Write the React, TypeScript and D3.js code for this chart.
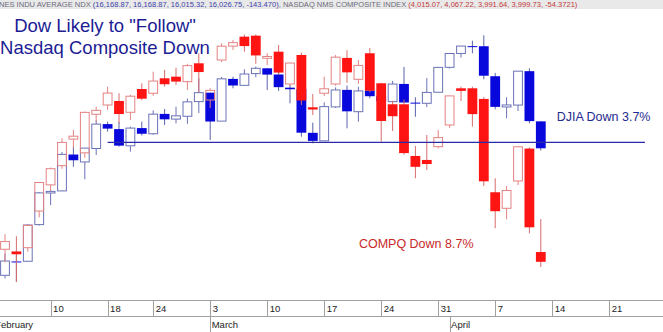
import React from 'react';
import * as d3 from 'd3';

const W = 663;
const H = 332;

// trading days shown as candles
const dates = [
  '2014-02-04', '2014-02-05', '2014-02-06', '2014-02-07', '2014-02-10', '2014-02-11', '2014-02-12', '2014-02-13', '2014-02-14',
  '2014-02-18', '2014-02-19', '2014-02-20', '2014-02-21', '2014-02-24', '2014-02-25', '2014-02-26', '2014-02-27', '2014-02-28',
  '2014-03-03', '2014-03-04', '2014-03-05', '2014-03-06', '2014-03-07', '2014-03-10', '2014-03-11', '2014-03-12', '2014-03-13',
  '2014-03-14', '2014-03-17', '2014-03-18', '2014-03-19', '2014-03-20', '2014-03-21', '2014-03-24', '2014-03-25', '2014-03-26',
  '2014-03-27', '2014-03-28', '2014-03-31', '2014-04-01', '2014-04-02', '2014-04-03', '2014-04-04', '2014-04-07', '2014-04-08',
  '2014-04-09', '2014-04-10', '2014-04-11',
];

// Dow Jones Industrial Average (blue)
const dowOpen = [
  15372.93, 15443.0, 15443.83, 15630.64, 15793.57, 15804.35, 15994.0, 15955.07, 16025.5,
  16154.39, 16127.8, 16039.8, 16133.2, 16103.3, 16208.5, 16180.9, 16195.9, 16274.0,
  16321.7, 16170.2, 16395.6, 16361.0, 16424.0, 16452.7, 16419.4, 16348.5, 16340.6,
  16108.2, 16066.0, 16245.7, 16336.7, 16220.2, 16333.0, 16303.0, 16273.6, 16368.5,
  16268.6, 16265.0, 16324.0, 16458.0, 16533.0, 16572.6, 16572.2, 16410.0, 16245.4,
  16255.5, 16437.2, 16168.87,
];
const dowHigh = [
  15481.85, 15478.21, 15632.09, 15798.51, 15810.5, 16007.2, 16036.0, 16029.0, 16175.0,
  16167.0, 16165.0, 16141.0, 16167.0, 16227.0, 16234.6, 16246.9, 16290.0, 16398.5,
  16321.7, 16406.0, 16407.5, 16447.3, 16462.0, 16453.0, 16440.0, 16362.8, 16395.0,
  16161.9, 16270.0, 16350.0, 16360.0, 16353.7, 16350.0, 16360.0, 16385.0, 16460.0,
  16297.0, 16400.0, 16460.0, 16535.0, 16573.5, 16602.3, 16631.63, 16428.0, 16297.0,
  16437.5, 16452.7, 16168.87,
];
const dowLow = [
  15356.62, 15340.69, 15443.0, 15625.53, 15731.0, 15803.23, 15930.0, 15864.7, 15991.6,
  16114.2, 16035.2, 16009.0, 16094.0, 16098.0, 16149.7, 16158.7, 16156.0, 16213.0,
  16070.4, 16170.2, 16345.2, 16361.0, 16404.2, 16336.0, 16330.7, 16264.9, 16087.8,
  16053.0, 16066.0, 16240.0, 16132.2, 16167.1, 16291.7, 16190.0, 16270.0, 16268.0,
  16193.6, 16245.0, 16324.0, 16451.0, 16511.0, 16533.8, 16393.4, 16233.0, 16185.2,
  16224.0, 16158.7, 16015.32,
];
const dowClose = [
  15445.24, 15440.23, 15628.53, 15794.08, 15801.79, 15994.77, 15963.94, 16027.59, 16154.39,
  16130.4, 16040.56, 16133.23, 16103.3, 16207.14, 16179.66, 16198.41, 16272.65, 16321.71,
  16168.03, 16395.88, 16360.18, 16421.89, 16452.72, 16418.68, 16351.25, 16340.08, 16108.89,
  16065.67, 16247.22, 16336.19, 16222.17, 16331.05, 16302.77, 16276.69, 16367.88, 16268.99,
  16264.23, 16323.06, 16457.66, 16532.61, 16573.0, 16572.55, 16412.71, 16245.87, 16256.14,
  16437.18, 16170.22, 16026.75,
];

// Nasdaq Composite (red)
const nasOpen = [
  4019.4, 4016.0, 4021.9, 4080.0, 4122.0, 4153.1, 4196.5, 4174.0, 4237.5,
  4252.9, 4259.6, 4240.8, 4279.6, 4272.5, 4297.6, 4300.3, 4291.9, 4322.9,
  4261.2, 4328.5, 4352.1, 4368.2, 4369.9, 4331.4, 4342.6, 4288.0, 4337.0,
  4249.1, 4272.5, 4288.0, 4332.0, 4295.9, 4339.9, 4289.2, 4254.1, 4254.1,
  4168.9, 4162.4, 4184.1, 4219.8, 4280.8, 4280.8, 4263.0, 4110.1, 4084.4,
  4128.3, 4181.0, 4015.07,
];
const nasHigh = [
  4043.1, 4040.0, 4059.0, 4126.5, 4150.0, 4197.9, 4211.5, 4242.0, 4250.1,
  4283.5, 4272.5, 4270.0, 4289.2, 4308.7, 4311.6, 4315.4, 4322.0, 4339.9,
  4281.0, 4356.9, 4362.5, 4371.71, 4372.0, 4339.9, 4354.0, 4323.5, 4341.0,
  4271.3, 4300.3, 4337.0, 4345.0, 4328.5, 4348.9, 4290.0, 4260.0, 4262.0,
  4185.2, 4203.3, 4211.5, 4269.0, 4283.5, 4283.5, 4266.0, 4132.7, 4120.2,
  4185.0, 4183.0, 4067.22,
];
const nasLow = [
  3999.0, 3968.2, 4015.6, 4070.0, 4112.0, 4148.0, 4182.0, 4166.0, 4225.0,
  4245.0, 4222.6, 4228.0, 4261.0, 4268.0, 4283.5, 4286.3, 4278.0, 4274.1,
  4248.0, 4325.0, 4345.5, 4342.6, 4322.0, 4320.0, 4304.0, 4285.0, 4253.0,
  4236.3, 4268.0, 4285.0, 4290.0, 4288.0, 4274.0, 4192.3, 4210.0, 4171.0,
  4132.7, 4146.1, 4181.2, 4215.0, 4259.6, 4217.0, 4120.2, 4052.6, 4066.9,
  4121.8, 4044.6, 3991.64,
];
const nasClose = [
  4031.52, 4011.55, 4057.12, 4125.86, 4148.17, 4191.05, 4201.29, 4240.67, 4244.03,
  4272.78, 4237.95, 4267.55, 4263.41, 4292.97, 4287.59, 4292.06, 4318.93, 4308.12,
  4277.3, 4351.97, 4357.97, 4352.13, 4336.22, 4334.45, 4307.19, 4323.33, 4260.42,
  4245.4, 4279.95, 4333.31, 4307.6, 4319.29, 4276.79, 4226.39, 4234.27, 4173.58,
  4151.23, 4155.76, 4198.99, 4268.04, 4276.46, 4237.74, 4127.73, 4079.75, 4112.99,
  4183.9, 4054.11, 3999.73,
];

// axis days (weekday slots incl. the blank days to the right)
const axisDays = [
  '2014-02-03', '2014-02-04', '2014-02-05', '2014-02-06', '2014-02-07', '2014-02-10', '2014-02-11', '2014-02-12', '2014-02-13',
  '2014-02-14', '2014-02-18', '2014-02-19', '2014-02-20', '2014-02-21', '2014-02-24', '2014-02-25', '2014-02-26', '2014-02-27',
  '2014-02-28', '2014-03-03', '2014-03-04', '2014-03-05', '2014-03-06', '2014-03-07', '2014-03-10', '2014-03-11', '2014-03-12',
  '2014-03-13', '2014-03-14', '2014-03-17', '2014-03-18', '2014-03-19', '2014-03-20', '2014-03-21', '2014-03-24', '2014-03-25',
  '2014-03-26', '2014-03-27', '2014-03-28', '2014-03-31', '2014-04-01', '2014-04-02', '2014-04-03', '2014-04-04', '2014-04-07',
  '2014-04-08', '2014-04-09', '2014-04-10', '2014-04-11', '2014-04-14', '2014-04-15', '2014-04-16', '2014-04-17', '2014-04-18',
  '2014-04-21', '2014-04-22', '2014-04-23', '2014-04-24', '2014-04-25',
];
const tickDays = [
  '2014-02-10', '2014-02-18', '2014-02-24', '2014-03-03', '2014-03-10', '2014-03-17',
  '2014-03-24', '2014-03-31', '2014-04-07', '2014-04-14', '2014-04-21',
];
const tickLabels = ['10', '18', '24', '3', '10', '17', '24', '31', '7', '14', '21'];
const monthNames = ['February', 'March', 'April'];
const monthStarts = ['2014-02-03', '2014-03-03', '2014-04-01'];

const dowSupport = 16058;
const supportFrom = '2014-02-18';
const supportTo = '2014-04-24';

const headerParts = [
  'NES INDU AVERAGE NDX ',
  '(16,168.87, 16,168.87, 16,015.32, 16,026.75, -143.470)',
  ', NASDAQ NMS COMPOSITE INDEX ',
  '(4,015.07, 4,067.22, 3,991.64, 3,999.73, -54.3721)',
];

const DOW_FILL = '#0808dc';
const DOW_HOLLOW = '#6a72b6';
const DOW_WICK = '#5a64aa';
const NAS_FILL = '#ff1414';
const NAS_HOLLOW = '#e48282';
const NAS_WICK = '#d86c6c';

type Style = { fill: string; hollow: string; wick: string };

function candles(
  key: string,
  o: number[], h: number[], l: number[], c: number[],
  x: (d: string) => number,
  y: d3.ScaleLogarithmic<number, number>,
  st: Style,
) {
  const bw = 9.8;
  return dates.map((d, i) => {
    const cx = x(d);
    const up = c[i] >= o[i];
    const top = y(Math.max(o[i], c[i]));
    const bot = y(Math.min(o[i], c[i]));
    const hh = Math.max(bot - top, 1);
    const yh = y(h[i]);
    const yl = y(l[i]);
    if (up) {
      return (
        <g key={key + i}>
          <line x1={cx} x2={cx} y1={yh} y2={top} stroke={st.hollow} strokeWidth={1} />
          <line x1={cx} x2={cx} y1={top + hh} y2={yl} stroke={st.hollow} strokeWidth={1} />
          <rect x={cx - bw / 2 + 0.5} y={top} width={bw - 1} height={hh} fill="none" stroke={st.hollow} strokeWidth={1} />
        </g>
      );
    }
    return (
      <g key={key + i}>
        <line x1={cx} x2={cx} y1={yh} y2={yl} stroke={st.wick} strokeWidth={1} />
        <rect x={cx - bw / 2} y={top} width={bw} height={hh} fill={st.fill} />
      </g>
    );
  });
}

export default function App() {
  const xs = d3.scaleLinear().domain([0, axisDays.length - 1]).range([-6.4, 654.8]);
  const x = (d: string) => xs(axisDays.indexOf(d));
  const yDow = d3.scaleLog().domain([15000, 17000]).range([350.2, -31.5]);
  const yNas = d3.scaleLog().domain([3800, 4500]).range([392.7, -39.3]);

  const axisTop = 300.5;
  const axisMid = 316.5;

  const headerFill = ['#6b6b7a', '#3b3fa8', '#6b6b7a', '#c23a3a'];
  const narrow = "'Liberation Sans Narrow', 'Liberation Sans', Arial, sans-serif";

  return (
    <svg
      width={W}
      height={H}
      viewBox={`0 0 ${W} ${H}`}
      style={{ position: 'absolute', left: 0, top: 0, background: '#fff' }}
      fontFamily="'Liberation Sans', Arial, sans-serif"
    >
      <rect x={0} y={0} width={W} height={H} fill="#fff" />

      {/* header */}
      <rect x={0} y={0} width={W} height={9} fill="#e9e9e9" />
      <text x={-1} y={7} fontSize={7.55} fontFamily={narrow} xmlSpace="preserve">
        {headerParts.map((t, i) => (
          <tspan key={'h' + i} fill={headerFill[i]}>{t}</tspan>
        ))}
      </text>

      {/* candles */}
      <g>{candles('d', dowOpen, dowHigh, dowLow, dowClose, x, yDow, { fill: DOW_FILL, hollow: DOW_HOLLOW, wick: DOW_WICK })}</g>
      <g>{candles('n', nasOpen, nasHigh, nasLow, nasClose, x, yNas, { fill: NAS_FILL, hollow: NAS_HOLLOW, wick: NAS_WICK })}</g>

      {/* support line */}
      <line x1={x(supportFrom)} x2={x(supportTo) + 1.5} y1={yDow(dowSupport)} y2={yDow(dowSupport)} stroke="#2a2aa6" strokeWidth={1.2} />

      {/* title */}
      <text x={105} y={32.3} fontSize={18.5} fill="#1c1c94" textAnchor="middle">Dow Likely to "Follow"</text>
      <text x={105} y={54} fontSize={18.5} fill="#1c1c94" textAnchor="middle">Nasdaq Composite Down</text>

      {/* annotations */}
      <text x={556.7} y={120.7} fontSize={12.5} fill="#1f2b8e">DJIA Down 3.7%</text>
      <text x={473.5} y={248.3} fontSize={12.5} fill="#c82a2a" textAnchor="end">COMPQ Down 8.7%</text>

      {/* x axis */}
      <line x1={0} x2={W} y1={axisTop} y2={axisTop} stroke="#a0a0a0" strokeWidth={1} />
      <line x1={0} x2={W} y1={axisMid} y2={axisMid} stroke="#a0a0a0" strokeWidth={1} />
      {tickDays.map((d, i) => (
        <g key={'t' + i}>
          <line x1={Math.round(x(d)) + 0.5} x2={Math.round(x(d)) + 0.5} y1={axisTop} y2={axisMid} stroke="#a0a0a0" />
          <text x={x(d) + 2.5} y={312} fontSize={9.5} fill="#222">{tickLabels[i]}</text>
        </g>
      ))}
      {monthStarts.map((d, i) => (
        <g key={'m' + i}>
          <line x1={Math.round(x(d)) + 0.5} x2={Math.round(x(d)) + 0.5} y1={axisMid} y2={H} stroke="#a0a0a0" />
          <text x={x(d) + 1.5} y={328} fontSize={9.5} fill="#222">{monthNames[i]}</text>
        </g>
      ))}
    </svg>
  );
}
